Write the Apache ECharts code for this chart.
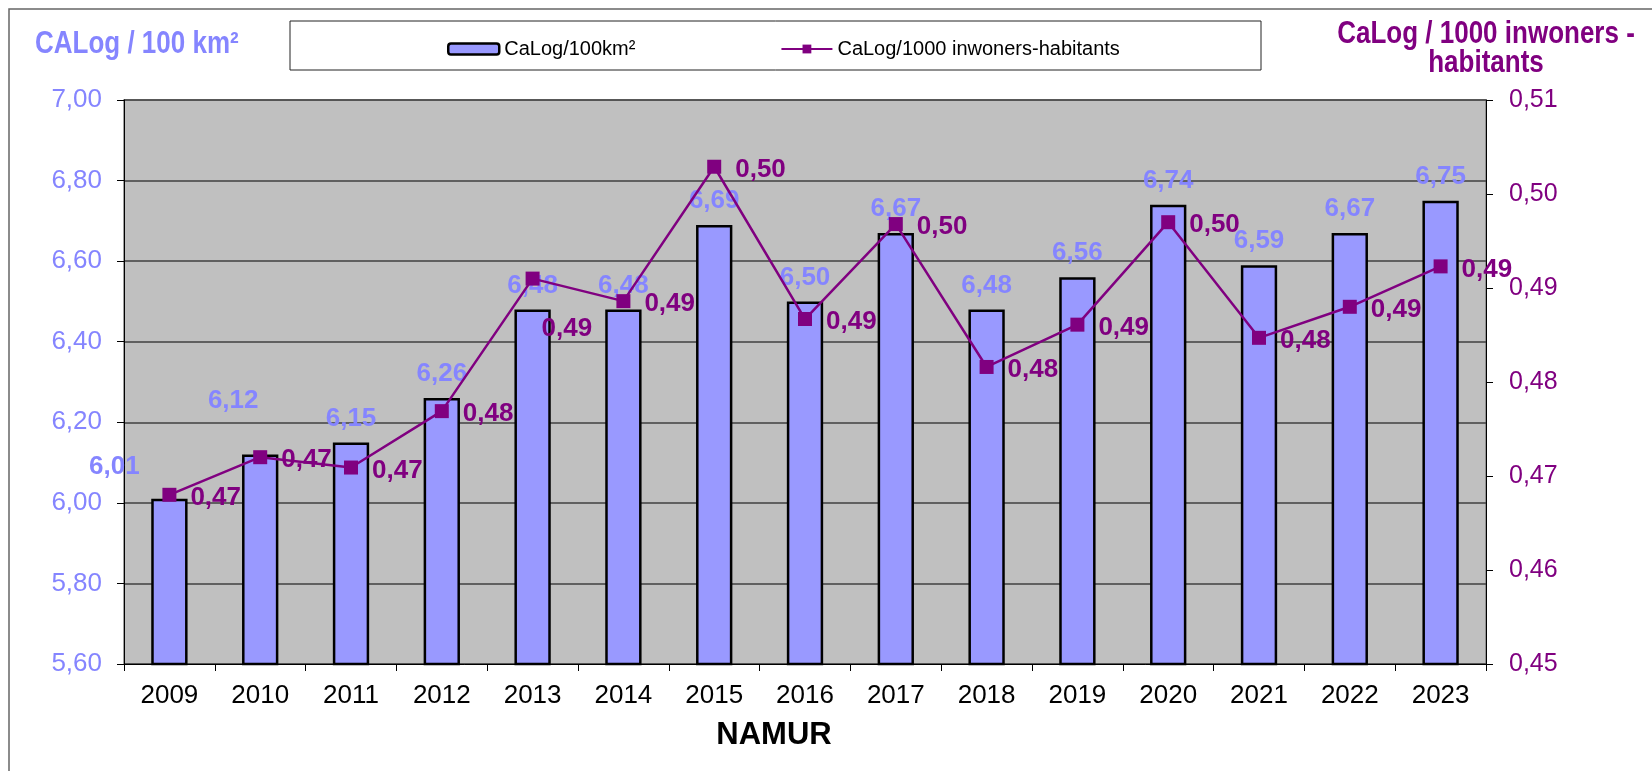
<!DOCTYPE html>
<html>
<head>
<meta charset="utf-8">
<script src="https://cdn.jsdelivr.net/npm/echarts@6/dist/echarts.min.js"></script>
<style>
html,body{margin:0;padding:0;background:#fff;}
#chart{width:1652px;height:771px;}
</style>
</head>
<body>
<div id="chart"></div>
<script>
// ---- data ----
const years = ['2009','2010','2011','2012','2013','2014','2015','2016','2017','2018','2019','2020','2021','2022','2023'];
const perArea = [6.01, 6.12, 6.15, 6.26, 6.48, 6.48, 6.69, 6.50, 6.67, 6.48, 6.56, 6.74, 6.59, 6.67, 6.75];
const perInhab = [0.468, 0.472, 0.4709, 0.4769, 0.491, 0.4886, 0.5029, 0.4867, 0.4968, 0.4816, 0.4861, 0.497, 0.4847, 0.488, 0.4923];
const leftTicks = {min: 5.6, max: 7.0, step: 0.2};
const rightTicks = {min: 0.45, max: 0.51, step: 0.01};
const seriesNames = ['CaLog/100km²', 'CaLog/1000 inwoners-habitants'];
const leftTitle = 'CALog / 100 km²';
const rightTitle = 'CaLog / 1000 inwoners -\nhabitants';
const xTitle = 'NAMUR';

// ---- styling ----
const BLUE = '#9999ff';
const BLUE_TXT = '#8585ff';
const PURPLE = '#800080';
const FONT = '"Liberation Sans", Arial, sans-serif';
const comma = (v) => v.toFixed(2).replace('.', ',');

// per-label nudges (the original had a few labels moved by hand)
const barLabelNudge = {0: [-55, -8], 1: [-27, -30]};
const lineLabelNudge = {4: [-12, 50]};

const barData = perArea.map((v, i) => {
  const o = {value: v};
  if (barLabelNudge[i]) o.label = {offset: barLabelNudge[i]};
  return o;
});
const lineData = perInhab.map((v, i) => {
  const o = {value: v};
  if (lineLabelNudge[i]) o.label = {offset: lineLabelNudge[i]};
  return o;
});

const chart = echarts.init(document.getElementById('chart'), null, {renderer: 'canvas'});
chart.setOption({
  backgroundColor: '#ffffff',
  animation: false,
  textStyle: {fontFamily: FONT},
  graphic: [
    {type: 'rect', z: -10, shape: {x: 9, y: 9, width: 1700, height: 800},
     style: {fill: 'none', stroke: '#666', lineWidth: 1.5}},
    {type: 'rect', z: -5, shape: {x: 290, y: 21, width: 971, height: 49},
     style: {fill: '#fff', stroke: '#222', lineWidth: 1}},
    {type: 'text', x: 35, y: 44, scaleY: 1.2,
     style: {text: leftTitle, fill: BLUE_TXT, font: 'bold 26px ' + FONT,
             textAlign: 'left', textVerticalAlign: 'middle'}},
    {type: 'text', x: 1486, y: 49, scaleY: 1.2,
     style: {text: rightTitle, fill: PURPLE, font: 'bold 26px ' + FONT,
             textAlign: 'center', textVerticalAlign: 'middle', lineHeight: 24}},
    {type: 'text', x: 774, y: 735,
     style: {text: xTitle, fill: '#000', font: 'bold 31px ' + FONT,
             textAlign: 'center', textVerticalAlign: 'middle'}}
  ],
  legend: {
    left: 442, top: 34,
    itemGap: 145,
    itemWidth: 51, itemHeight: 11,
    textStyle: {fontSize: 20, color: '#000', fontFamily: FONT},
    data: [
      {name: seriesNames[0], itemStyle: {borderColor: '#000', borderWidth: 2.5}},
      {name: seriesNames[1]}
    ]
  },
  grid: {left: 124, right: 166, top: 100, bottom: 107, show: true,
         backgroundColor: '#c0c0c0', borderColor: '#808080', borderWidth: 1.5},
  xAxis: {
    type: 'category', data: years,
    axisLine: {lineStyle: {color: '#000', width: 1}},
    axisTick: {show: true, length: 7, lineStyle: {color: '#000'}},
    axisLabel: {color: '#000', fontSize: 26, margin: 19, interval: 0, fontFamily: FONT}
  },
  yAxis: [
    {type: 'value', min: leftTicks.min, max: leftTicks.max, interval: leftTicks.step,
     axisLine: {show: true, lineStyle: {color: '#000'}},
     axisTick: {show: true, length: 7, lineStyle: {color: '#000'}},
     axisLabel: {color: BLUE_TXT, fontSize: 26, margin: 22, formatter: comma, fontFamily: FONT},
     splitLine: {show: true, lineStyle: {color: '#404040', width: 1.5}}},
    {type: 'value', min: rightTicks.min, max: rightTicks.max, interval: rightTicks.step,
     axisLine: {show: true, lineStyle: {color: '#000'}},
     axisTick: {show: true, length: 7, lineStyle: {color: '#000'}},
     axisLabel: {color: PURPLE, fontSize: 25, margin: 23, formatter: comma, fontFamily: FONT},
     splitLine: {show: false}}
  ],
  series: [
    {name: seriesNames[0], type: 'bar', yAxisIndex: 0, data: barData,
     barWidth: '40%',
     itemStyle: {color: BLUE, borderColor: '#000', borderWidth: 2.5},
     label: {show: true, position: 'top', distance: 11, color: BLUE_TXT,
             fontSize: 26, fontWeight: 'bold', fontFamily: FONT,
             formatter: (p) => comma(p.value)}},
    {name: seriesNames[1], type: 'line', yAxisIndex: 1, data: lineData,
     symbol: 'rect', symbolSize: 14,
     lineStyle: {color: PURPLE, width: 2.5},
     itemStyle: {color: PURPLE},
     label: {show: true, position: 'right', distance: 14, color: PURPLE,
             fontSize: 26, fontWeight: 'bold', fontFamily: FONT,
             offset: [0, 3],
             formatter: (p) => comma(p.value)}}
  ]
});
</script>
</body>
</html>
